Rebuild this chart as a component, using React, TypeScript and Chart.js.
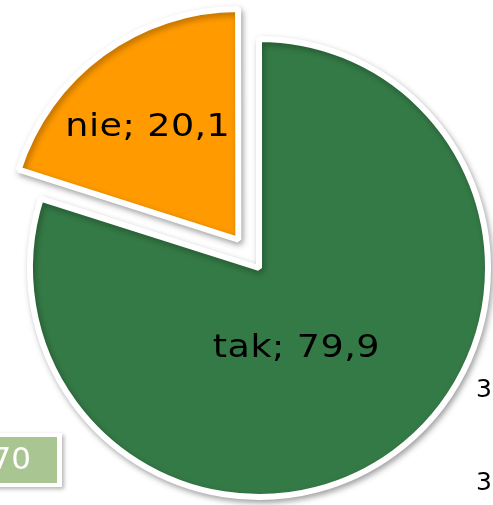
import React, { useEffect, useRef } from "react";
import { Chart, registerables } from "chart.js";

Chart.register(...registerables);

const categories = ["tak", "nie"];
const values = [79.9, 20.1];
const valueLabels = ["79,9", "20,1"];
const sliceColors = ["#347A46", "#FF9A00"];
const sliceOffsets = [0, 140];
const fragmentBoxText = "70";
const fragmentSideTexts = ["3", "3"];

const shadowPlugin = {
  id: "sliceShadow",
  beforeDatasetsDraw(chart: any) {
    const ctx = chart.ctx;
    ctx.save();
    ctx.shadowColor = "rgba(0,0,0,0.3)";
    ctx.shadowBlur = 6;
    ctx.shadowOffsetX = 2;
    ctx.shadowOffsetY = 3;
  },
  afterDatasetsDraw(chart: any) {
    chart.ctx.restore();
  },
};

const labelPlugin = {
  id: "sliceLabels",
  afterDatasetsDraw(chart: any) {
    const ctx = chart.ctx;
    const meta = chart.getDatasetMeta(0);
    const tweaks = [
      { frac: 0.39, dAngle: 0.2 },
      { frac: 0.629, dAngle: -0.048 },
    ];
    meta.data.forEach((arc: any, i: number) => {
      const off = (sliceOffsets[i] || 0) / 4;
      const mid = (arc.startAngle + arc.endAngle) / 2;
      const cx = arc.x + Math.cos(mid) * off;
      const cy = arc.y + Math.sin(mid) * off;
      const a = mid + tweaks[i].dAngle;
      const r = arc.outerRadius * tweaks[i].frac;
      ctx.save();
      ctx.translate(cx + Math.cos(a) * r, cy + Math.sin(a) * r);
      ctx.scale(1.14, 1);
      ctx.font = "32px 'DejaVu Sans', Verdana, sans-serif";
      (ctx as any).letterSpacing = "0.4px";
      ctx.fillStyle = "#000";
      ctx.textAlign = "center";
      ctx.textBaseline = "middle";
      ctx.fillText(`${categories[i]}; ${valueLabels[i]}`, 0, 0);
      ctx.restore();
    });
  },
};

const fragmentsPlugin = {
  id: "fragments",
  afterDraw(chart: any) {
    const ctx = chart.ctx;
    const W = chart.width;
    const H = chart.height;
    ctx.save();
    // partial box on the bottom-left
    ctx.shadowColor = "rgba(0,0,0,0.3)";
    ctx.shadowBlur = 4;
    ctx.shadowOffsetX = 2;
    ctx.shadowOffsetY = 2;
    ctx.fillStyle = "#ffffff";
    ctx.fillRect(-10, H - 72, 72, 54);
    ctx.shadowColor = "transparent";
    ctx.fillStyle = "#A9C592";
    ctx.fillRect(-10, H - 68, 67, 46);
    ctx.fillStyle = "#ffffff";
    ctx.font = "31px 'DejaVu Sans', Verdana, sans-serif";
    ctx.textAlign = "right";
    ctx.textBaseline = "middle";
    ctx.fillText(fragmentBoxText, 31, H - 44);
    // partial texts on the right
    ctx.fillStyle = "#000";
    ctx.font = "25px 'DejaVu Sans', Verdana, sans-serif";
    ctx.textAlign = "left";
    ctx.fillText(fragmentSideTexts[0], W - 17, H - 115);
    ctx.fillText(fragmentSideTexts[1], W - 17, H - 22);
    ctx.restore();
  },
};

export default function App() {
  const ref = useRef<HTMLCanvasElement | null>(null);
  useEffect(() => {
    if (!ref.current) return;
    const chart = new Chart(ref.current, {
      type: "pie",
      data: {
        labels: categories,
        datasets: [
          {
            data: values,
            backgroundColor: sliceColors,
            borderColor: "#ffffff",
            borderWidth: 6,
            offset: sliceOffsets,
            radius: 229,
          } as any,
        ],
      },
      options: {
        animation: false,
        responsive: false,
        maintainAspectRatio: false,
        layout: { padding: { left: 25, top: 31, right: 0, bottom: 0 } },
        plugins: {
          legend: { display: false },
          tooltip: { enabled: false },
          title: { display: false },
        },
      } as any,
      plugins: [shadowPlugin, labelPlugin, fragmentsPlugin],
    });
    return () => chart.destroy();
  }, []);
  return (
    <div style={{ position: "fixed", left: 0, top: 0, width: 493, height: 505, background: "#fff" }}>
      <canvas ref={ref} width={493} height={505} style={{ width: 493, height: 505 }} />
    </div>
  );
}
